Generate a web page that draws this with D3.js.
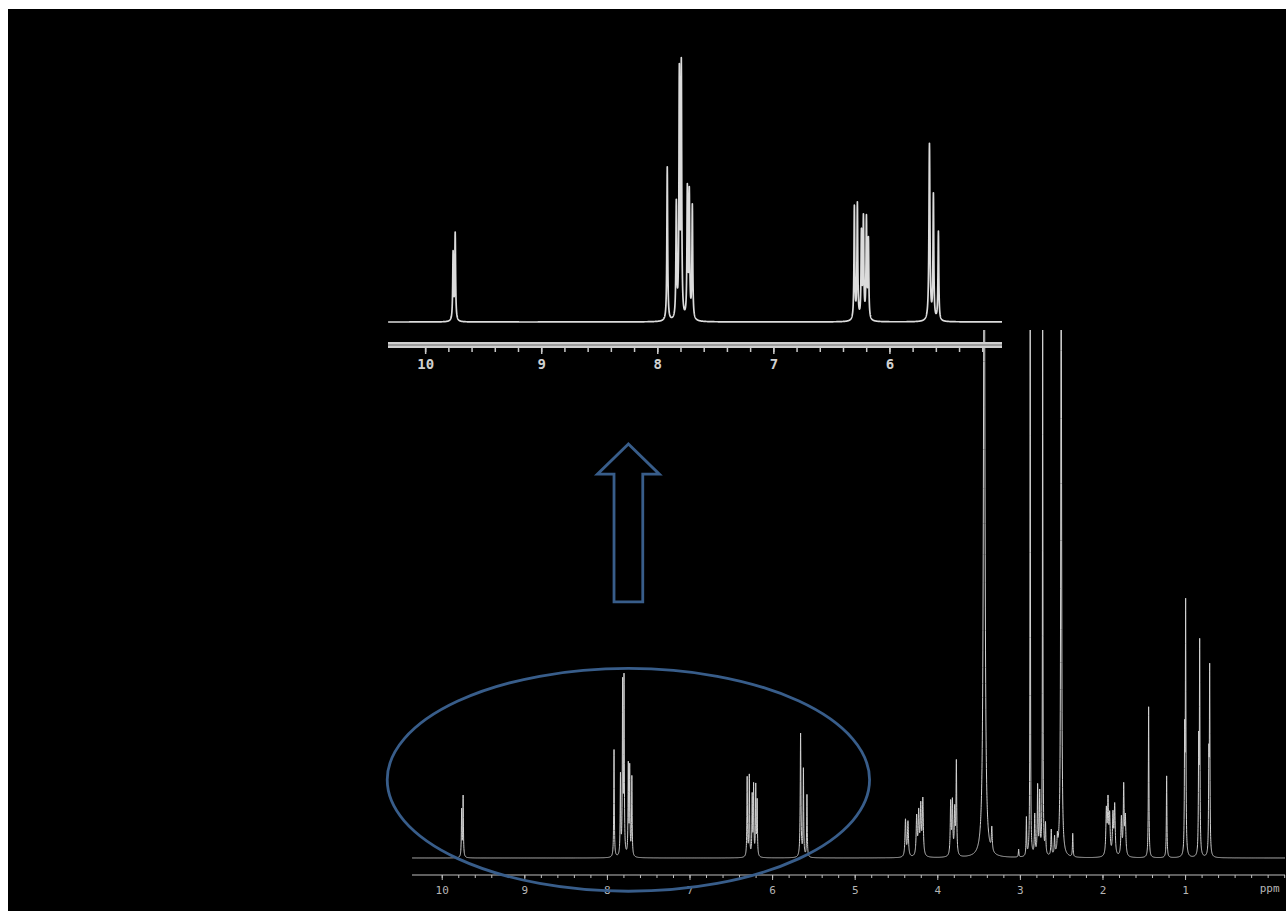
<!DOCTYPE html>
<html>
<head>
<meta charset="utf-8">
<script src="https://cdn.jsdelivr.net/npm/d3@7"></script>
<style>
  html, body { margin: 0; padding: 0; background: #ffffff; }
  svg { display: block; }
</style>
</head>
<body>
<svg id="chart" width="1286" height="911"></svg>
<script>
// ---- 1H NMR peak list ----
// chemical shift of each line (ppm)
const shiftPpm = [
  9.759, 9.741,
  7.914, 7.836, 7.810, 7.793, 7.741, 7.724, 7.698,
  6.302, 6.276, 6.241, 6.224, 6.198, 6.181,
  5.655, 5.621, 5.578,
  4.385, 4.355, 4.250, 4.225, 4.200, 4.175,
  3.838, 3.817, 3.789, 3.769,
  3.432, 3.340, 3.015,
  2.921, 2.875, 2.820, 2.785, 2.760, 2.724, 2.690, 2.620, 2.580, 2.546, 2.500, 2.360,
  1.953, 1.933, 1.913, 1.873, 1.852, 1.771, 1.743, 1.723,
  1.441, 1.223, 1.005, 0.993, 0.835, 0.823, 0.712, 0.702
];
// peak height of each line (relative intensity; 100 = top of the full-range plot)
const intensity = [
  8.9, 11.5,
  20.4, 15.1, 32.0, 33.0, 17.0, 16.5, 15.0,
  15.0, 15.3, 11.3, 13.2, 13.2, 10.4,
  23.4, 16.5, 11.8,
  7.0, 6.6, 7.4, 8.0, 9.2, 10.6,
  10.0, 10.0, 8.4, 17.6,
  140, 4.4, 1.5,
  7.2, 115, 7.6, 13.0, 11.5, 115, 5.7, 4.9, 3.4, 2.9, 120, 4.4,
  8.4, 10.0, 7.2, 7.6, 9.4, 7.2, 13.0, 7.2,
  28.6, 15.5, 21.5, 47.0, 20.0, 39.5, 16.8, 34.5
];
// half-width at half-height of each line (ppm)
const halfWidth = [
  0.004, 0.004,
  0.004, 0.004, 0.004, 0.004, 0.004, 0.004, 0.004,
  0.004, 0.004, 0.004, 0.004, 0.004, 0.004,
  0.005, 0.004, 0.004,
  0.007, 0.007, 0.007, 0.007, 0.007, 0.007,
  0.006, 0.006, 0.006, 0.005,
  0.010, 0.006, 0.004,
  0.004, 0.003, 0.005, 0.005, 0.005, 0.003, 0.005, 0.005, 0.005, 0.005, 0.006, 0.004,
  0.007, 0.007, 0.007, 0.007, 0.007, 0.007, 0.006, 0.007,
  0.004, 0.004, 0.004, 0.004, 0.004, 0.004, 0.004, 0.004
];

// ---- axis ticks and labels ----
const mainTickPpm   = [10, 9, 8, 7, 6, 5, 4, 3, 2, 1];
const mainTickText  = ["10", "9", "8", "7", "6", "5", "4", "3", "2", "1"];
const insetTickPpm  = [10, 9, 8, 7, 6];
const insetTickText = ["10", "9", "8", "7", "6"];
const unitLabel = "ppm";
const minorStep = 0.2;

// ---- highlighted region (ppm / intensity units of the full-range plot) ----
const zoomCenterPpm = 7.74;
const zoomHalfSpanPpm = 2.92;
const zoomCenterInt = 14.8;
const zoomHalfSpanInt = 21.1;
// upward arrow: base, head base and tip levels; head and shaft half-widths (ppm)
const arrowLevels = [48.5, 72.7, 78.4];
const arrowHalfWidths = [0.375, 0.174];

// ---------------------------------------------------------------
const svg = d3.select("#chart");
const W = 1286, H = 911;
const fg = "#d2d2d2";
const accent = "#385D8A";

const peaks = shiftPpm.map((p, i) => ({ p, h: intensity[i], w: halfWidth[i] }));

// Lorentzian line sum sampled over [lo, hi]
function spectrum(lo, hi, step) {
  const xs = d3.range(lo, hi, step)
    .concat(shiftPpm.filter(p => p >= lo && p <= hi))
    .sort(d3.ascending);
  return xs.map(x => [x, d3.sum(peaks, k => k.h * k.w * k.w / ((x - k.p) ** 2 + k.w * k.w))]);
}

// page frame
svg.append("rect").attr("width", W).attr("height", H).attr("fill", "#ffffff");
svg.append("rect").attr("x", 8).attr("y", 9).attr("width", W - 8).attr("height", H - 9).attr("fill", "#000000");

// ---- full-range spectrum ----
const xMain = d3.scaleLinear().domain([10.36, -0.21]).range([412, 1285]);
const yMain = d3.scaleLinear().domain([0, 100]).range([858, 330]);

svg.append("clipPath").attr("id", "mainClip")
  .append("rect").attr("x", 405).attr("y", 330).attr("width", W - 405).attr("height", H - 330);

const mainLine = d3.line().x(d => xMain(d[0])).y(d => yMain(d[1]));
svg.append("path")
  .attr("clip-path", "url(#mainClip)")
  .datum(spectrum(-0.21, 10.36, 0.001))
  .attr("d", mainLine)
  .attr("fill", "none")
  .attr("stroke", fg)
  .attr("stroke-width", 1)
  .attr("stroke-linejoin", "round");

// main axis
const mainAxisY = 875;
const minorMain = d3.range(Math.ceil(-0.2 / minorStep), Math.floor(10.2 / minorStep) + 1).map(i => +(i * minorStep).toFixed(1));
const gMainMinor = svg.append("g").attr("transform", `translate(0,${mainAxisY})`)
  .call(d3.axisBottom(xMain).tickValues(minorMain).tickSize(3).tickFormat(""));
const gMain = svg.append("g").attr("transform", `translate(0,${mainAxisY})`)
  .call(d3.axisBottom(xMain).tickValues(mainTickPpm).tickSize(5).tickPadding(6)
    .tickFormat((d, i) => mainTickText[i]));
[gMainMinor, gMain].forEach(g => {
  g.selectAll("path.domain").attr("stroke", "#bdbdbd").attr("stroke-width", 1.2);
  g.selectAll(".tick line").attr("stroke", "#bdbdbd");
});
gMainMinor.select("path.domain").remove();
gMain.select("path.domain").attr("d", `M${xMain.range()[0]},0H${xMain.range()[1]}`);
gMain.selectAll(".tick text")
  .attr("fill", "#b5b5b5").attr("font-family", "DejaVu Sans Mono, monospace").attr("font-size", 11);
svg.append("text")
  .attr("x", xMain(0) + 2).attr("y", mainAxisY + 17)
  .attr("text-anchor", "middle")
  .attr("fill", "#b5b5b5").attr("font-family", "DejaVu Sans Mono, monospace").attr("font-size", 11)
  .text(unitLabel);

// ---- expanded aromatic region ----
const xInset = d3.scaleLinear().domain([10.32, 5.03]).range([388, 1002]);
const yInset = d3.scaleLinear().domain([0, 100]).range([322, 322 - 755]);

const insetLine = d3.line().x(d => xInset(d[0])).y(d => yInset(d[1]));
svg.append("path")
  .datum(spectrum(5.03, 10.32, 0.001))
  .attr("d", insetLine)
  .attr("fill", "none")
  .attr("stroke", "#dcdcdc")
  .attr("stroke-width", 1.7)
  .attr("stroke-linejoin", "round");

// inset axis: a heavy double rule with downward ticks
const insetAxisY = 348;
const bandX0 = xInset.range()[0], bandX1 = xInset.range()[1];
svg.append("rect")
  .attr("x", bandX0).attr("y", insetAxisY - 6).attr("width", bandX1 - bandX0).attr("height", 6)
  .attr("fill", "#cfcfcf");
svg.append("line")
  .attr("x1", bandX0).attr("x2", bandX1).attr("y1", insetAxisY - 3).attr("y2", insetAxisY - 3)
  .attr("stroke", "#6a6a6a").attr("stroke-width", 1);

const minorInset = d3.range(Math.ceil(5.2 / minorStep), Math.floor(10.2 / minorStep) + 1).map(i => +(i * minorStep).toFixed(1));
const gInsetMinor = svg.append("g").attr("transform", `translate(0,${insetAxisY})`)
  .call(d3.axisBottom(xInset).tickValues(minorInset).tickSize(4).tickFormat(""));
const gInset = svg.append("g").attr("transform", `translate(0,${insetAxisY})`)
  .call(d3.axisBottom(xInset).tickValues(insetTickPpm).tickSize(6).tickPadding(5)
    .tickFormat((d, i) => insetTickText[i]));
[gInsetMinor, gInset].forEach(g => {
  g.select("path.domain").remove();
  g.selectAll(".tick line").attr("stroke", "#c8c8c8").attr("stroke-width", 1.5);
});
gInset.selectAll(".tick text")
  .attr("fill", "#d0d0d0").attr("font-family", "DejaVu Sans Mono, monospace")
  .attr("font-size", 14).attr("font-weight", "bold");

// ---- highlight ellipse around the aromatic region ----
svg.append("ellipse")
  .attr("cx", xMain(zoomCenterPpm))
  .attr("cy", yMain(zoomCenterInt))
  .attr("rx", Math.abs(xMain(zoomCenterPpm + zoomHalfSpanPpm) - xMain(zoomCenterPpm)))
  .attr("ry", Math.abs(yMain(zoomCenterInt + zoomHalfSpanInt) - yMain(zoomCenterInt)))
  .attr("fill", "none")
  .attr("stroke", accent)
  .attr("stroke-width", 2.8);

// ---- arrow pointing from the ellipse to the expansion ----
const [aBase, aHead, aTip] = arrowLevels;
const [hw, sw] = arrowHalfWidths;
const c = zoomCenterPpm;
const arrowPts = [
  [c, aTip], [c + hw, aHead], [c + sw, aHead], [c + sw, aBase],
  [c - sw, aBase], [c - sw, aHead], [c - hw, aHead]
];
svg.append("path")
  .datum(arrowPts)
  .attr("d", d3.line().x(d => xMain(d[0])).y(d => yMain(d[1])).curve(d3.curveLinearClosed))
  .attr("fill", "none")
  .attr("stroke", accent)
  .attr("stroke-width", 2.8)
  .attr("stroke-linejoin", "miter");
</script>
</body>
</html>
